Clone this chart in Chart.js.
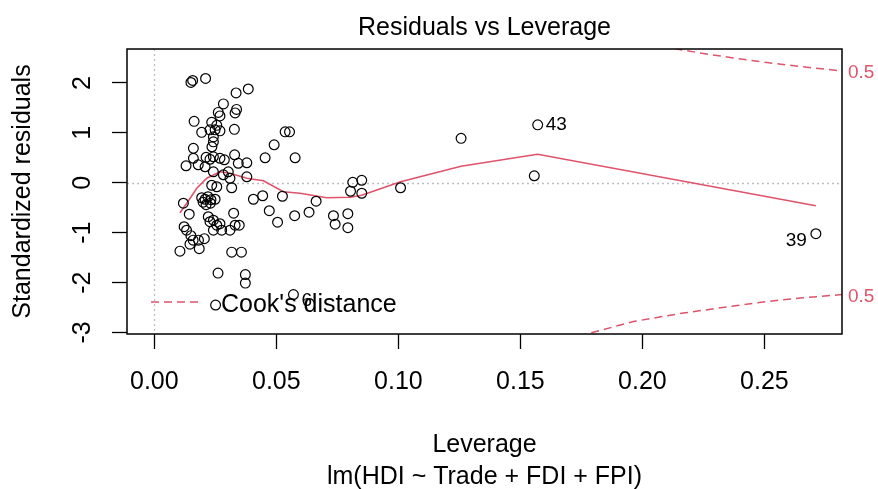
<!DOCTYPE html>
<html>
<head>
<meta charset="utf-8">
<script src="https://cdn.jsdelivr.net/npm/chart.js@4.4.1/dist/chart.umd.min.js"></script>
<style>
  html, body { margin: 0; padding: 0; background: #fff; }
  #wrap { width: 878px; height: 489px; }
</style>
</head>
<body>
<div id="wrap"><canvas id="chart"></canvas></div>
<script>
// Observations: leverage (hat values) and standardized residuals
const leverage = [
  0.0150, 0.0157, 0.0210, 0.0385, 0.0335, 0.0283, 0.0262, 0.0269, 0.0337, 0.0331,
  0.0163, 0.0194, 0.0235, 0.0256, 0.0228, 0.0249, 0.0269, 0.0328, 0.0242, 0.0242,
  0.0160, 0.0236, 0.0160, 0.0212, 0.0228, 0.0242, 0.0269, 0.0287, 0.0130, 0.0180,
  0.0208, 0.0329, 0.0344, 0.0379, 0.0242, 0.0283, 0.0303, 0.0310, 0.0379, 0.0454,
  0.0491, 0.0536, 0.0554, 0.0577, 0.0256, 0.0235, 0.0317,
  0.0119, 0.0143, 0.0122, 0.0132, 0.0150, 0.0159, 0.0146, 0.0105, 0.0181, 0.0184,
  0.0205, 0.0194, 0.0208, 0.0200, 0.0220, 0.0232, 0.0212, 0.0230, 0.0249, 0.0221,
  0.0228, 0.0242, 0.0256, 0.0269, 0.0276, 0.0242, 0.0310, 0.0325, 0.0331, 0.0348,
  0.0317, 0.0357, 0.0261, 0.0373, 0.0373, 0.0251,
  0.0406, 0.0444, 0.0471, 0.0505, 0.0525, 0.0575, 0.0634, 0.0663, 0.0734, 0.0741,
  0.0793, 0.0793, 0.0813, 0.0850, 0.0804, 0.0850, 0.1009, 0.1257, 0.1557,
  0.0570, 0.1571, 0.2711
];
const stdResid = [
  2.01, 2.05, 2.09, 1.88, 1.80, 1.58, 1.41, 1.34, 1.47, 1.40,
  1.23, 1.01, 1.21, 1.15, 1.06, 1.06, 1.04, 1.07, 0.92, 0.82,
  0.69, 0.72, 0.49, 0.51, 0.47, 0.52, 0.49, 0.46, 0.34, 0.36,
  0.32, 0.56, 0.39, 0.40, 0.22, 0.16, 0.22, 0.09, 0.12, 0.50,
  0.76, 1.02, 1.02, 0.50, -0.08, -0.05, -0.10,
  -0.41, -0.63, -0.88, -0.95, -1.06, -1.15, -1.23, -1.37, -1.15, -1.32,
  -1.12, -0.30, -0.33, -0.39, -0.28, -0.34, -0.44, -0.41, -0.33, -0.68,
  -0.78, -0.75, -0.85, -0.82, -0.95, -0.95, -0.95, -0.61, -0.85, -0.85,
  -1.39, -1.39, -1.81, -1.84, -2.01, -2.45,
  -0.33, -0.26, -0.56, -0.79, -0.27, -0.66, -0.59, -0.37, -0.66, -0.83,
  -0.62, -0.90, 0.01, 0.05, -0.17, -0.21, -0.10, 0.89, 0.14,
  -2.24, 1.16, -1.02
];
// labelled observations (index into the arrays above)
const labelIndex = [102, 103, 104];
const labelText = ['6', '43', '39'];
const labelSide = ['right', 'right', 'left'];

// lowess smoother
const smoothLev = [0.0105, 0.0133, 0.0174, 0.0215, 0.0269, 0.0310, 0.0379, 0.0447, 0.0529, 0.0597,
  0.0707, 0.0804, 0.0850, 0.1009, 0.1257, 0.1557, 0.1571, 0.2711];
const smoothRes = [-0.60, -0.41, -0.11, 0.09, 0.22, 0.19, 0.09, 0.04, -0.18, -0.21,
  -0.30, -0.29, -0.25, 0.02, 0.33, 0.56, 0.57, -0.46];

// Cook's distance 0.5 contours
const cookUpperLev = [0.2080, 0.2141, 0.2237, 0.2372, 0.2510, 0.2646, 0.2818];
const cookUpperRes = [2.76, 2.68, 2.60, 2.50, 2.41, 2.33, 2.24];
const cookLowerLev = [0.1740, 0.1765, 0.1963, 0.2168, 0.2373, 0.2510, 0.2646, 0.2818];
const cookLowerRes = [-3.09, -3.04, -2.78, -2.61, -2.47, -2.38, -2.31, -2.24];
const cookLevel = '0.5';

const xTicks = [0, 0.05, 0.10, 0.15, 0.20, 0.25];
const yTicks = [-3, -2, -1, 0, 1, 2];

const PINK = '#DF536B';
const FONT = "'Liberation Sans', Arial, sans-serif";

const zip = (xs, ys) => xs.map((v, i) => ({ x: v, y: ys[i] }));

// Box, zero lines, rotated y labels, point ids, contour labels, legend
const overlay = {
    id: 'overlay',
    beforeDatasetsDraw(chart) {
        const { ctx, chartArea: a, scales: { x, y } } = chart;
        const x0 = Math.round(x.getPixelForValue(0)) + 0.5;
        const y0 = Math.round(y.getPixelForValue(0)) + 0.5;
        ctx.save();
        ctx.strokeStyle = '#BEBEBE';
        ctx.lineWidth = 1.3;
        ctx.setLineDash([2, 3]);
        ctx.beginPath();
        ctx.moveTo(x0, a.top); ctx.lineTo(x0, a.bottom);
        ctx.moveTo(a.left, y0); ctx.lineTo(a.right, y0);
        ctx.stroke();
        ctx.restore();
    },
    afterDraw(chart) {
        const { ctx, chartArea: a, scales: { y } } = chart;
        ctx.save();
        ctx.strokeStyle = '#000';
        ctx.lineWidth = 1.5;
        ctx.strokeRect(a.left, a.top, a.right - a.left, a.bottom - a.top);

        // y tick labels, parallel to the axis
        ctx.fillStyle = '#000';
        ctx.font = '25px ' + FONT;
        ctx.textAlign = 'center';
        ctx.textBaseline = 'alphabetic';
        y.ticks.forEach(t => {
            ctx.save();
            ctx.translate(a.left - 37, y.getPixelForValue(t.value));
            ctx.rotate(-Math.PI / 2);
            ctx.fillText(t.value < 0 ? '-' + Math.abs(t.value) : String(t.value), 0, 0);
            ctx.restore();
        });

        // contour level labels on the right margin
        ctx.fillStyle = PINK;
        ctx.font = '19px ' + FONT;
        ctx.textAlign = 'left';
        ctx.textBaseline = 'middle';
        ctx.fillText(cookLevel, a.right + 6, y.getPixelForValue(cookUpperRes[cookUpperRes.length - 1]) + 2);
        ctx.fillText(cookLevel, a.right + 6, y.getPixelForValue(cookLowerRes[cookLowerRes.length - 1]) + 2);

        // observation ids
        const pts = chart.getDatasetMeta(0).data;
        ctx.fillStyle = '#000';
        ctx.font = '19px ' + FONT;
        labelIndex.forEach((idx, k) => {
            const p = pts[idx];
            if (labelSide[k] === 'right') {
                ctx.textAlign = 'left';
                ctx.fillText(labelText[k], p.x + 8, p.y + (k === 0 ? 6 : 0));
            } else {
                ctx.textAlign = 'right';
                ctx.fillText(labelText[k], p.x - 9, p.y + 7);
            }
        });

        // legend (bottom left)
        const ly = a.bottom - 32;
        ctx.strokeStyle = PINK;
        ctx.lineWidth = 1.5;
        ctx.setLineDash([8, 5]);
        ctx.beginPath();
        ctx.moveTo(a.left + 24, ly);
        ctx.lineTo(a.left + 72, ly);
        ctx.stroke();
        ctx.setLineDash([]);
        ctx.fillStyle = '#000';
        ctx.font = '25px ' + FONT;
        ctx.textAlign = 'left';
        ctx.textBaseline = 'middle';
        ctx.fillText("Cook's distance", a.left + 94, ly + 3);
        ctx.restore();
    }
};

new Chart(document.getElementById('chart'), {
    type: 'scatter',
    data: {
        datasets: [{
            label: 'obs',
            data: zip(leverage, stdResid),
            pointStyle: 'circle',
            pointRadius: 4.9,
            borderColor: '#000',
            borderWidth: 1.2,
            backgroundColor: 'rgba(0,0,0,0)',
            order: 1
        }, {
            label: 'smooth',
            type: 'line',
            data: zip(smoothLev, smoothRes),
            borderColor: PINK,
            borderWidth: 1.6,
            pointRadius: 0,
            fill: false,
            tension: 0,
            order: 2
        }, {
            label: 'cook upper',
            type: 'line',
            data: zip(cookUpperLev, cookUpperRes),
            borderColor: PINK,
            borderWidth: 1.5,
            borderDash: [8, 5],
            pointRadius: 0,
            fill: false,
            tension: 0,
            order: 3
        }, {
            label: 'cook lower',
            type: 'line',
            data: zip(cookLowerLev, cookLowerRes),
            borderColor: PINK,
            borderWidth: 1.5,
            borderDash: [8, 5],
            pointRadius: 0,
            fill: false,
            tension: 0,
            order: 3
        }]
    },
    options: {
        responsive: true,
        maintainAspectRatio: false,
        animation: false,
        events: [],
        layout: { padding: { left: 0, right: 36, top: 0, bottom: 0 } },
        plugins: {
            legend: { display: false },
            tooltip: { enabled: false },
            title: {
                display: true,
                fullSize: false,
                text: 'Residuals vs Leverage',
                color: '#000',
                font: { family: FONT, size: 25, weight: 'normal', lineHeight: 1.2 },
                padding: { top: 13, bottom: 6 }
            }
        },
        scales: {
            x: {
                type: 'linear',
                min: -0.0112,
                max: 0.2818,
                afterFit: s => { s.height = 155; },
                afterBuildTicks: s => { s.ticks = xTicks.map(v => ({ value: v })); },
                grid: { display: true, drawOnChartArea: false, drawTicks: true, tickLength: 15, tickColor: '#000', tickWidth: 1.3 },
                border: { display: false },
                ticks: {
                    color: '#000',
                    padding: 18,
                    maxRotation: 0,
                    font: { family: FONT, size: 25 },
                    callback: v => Number(v).toFixed(2)
                },
                title: {
                    display: true,
                    text: ['Leverage', 'lm(HDI ~ Trade + FDI + FPI)'],
                    color: '#000',
                    font: { family: FONT, size: 25, lineHeight: '32px' },
                    padding: { top: 0, bottom: -4 }
                }
            },
            y: {
                type: 'linear',
                min: -3.03,
                max: 2.68,
                afterFit: s => { s.width = 127; },
                afterBuildTicks: s => { s.ticks = yTicks.map(v => ({ value: v })); },
                grid: { display: true, drawOnChartArea: false, drawTicks: true, tickLength: 15, tickColor: '#000', tickWidth: 1.3 },
                border: { display: false },
                ticks: { display: false },
                title: {
                    display: true,
                    text: 'Standardized residuals',
                    color: '#000',
                    font: { family: FONT, size: 25, lineHeight: 1.2 },
                    padding: { top: 8, bottom: 0 }
                }
            }
        }
    },
    plugins: [overlay]
});
</script>
</body>
</html>
